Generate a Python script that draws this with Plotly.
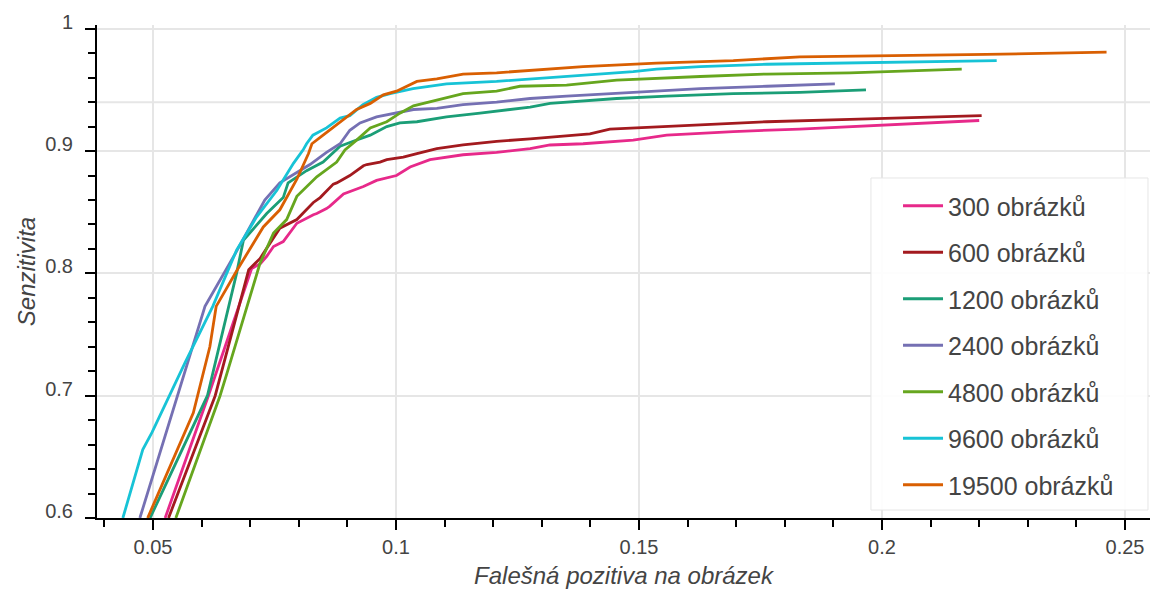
import plotly.graph_objects as go

names = ["300 obrázků", "600 obrázků", "1200 obrázků", "2400 obrázků",
         "4800 obrázků", "9600 obrázků", "19500 obrázků"]
colors = ["#e7298a", "#a31a1f", "#1b9e77", "#7570b3", "#66a61e", "#17c3d6", "#d95f02"]

x300 = [0.0525, 0.0614, 0.0703, 0.0721, 0.0734, 0.0748, 0.0768, 0.0789, 0.0796, 0.0830, 0.0837,
        0.0857, 0.0864, 0.0892, 0.0933, 0.0960, 0.1001, 0.1029, 0.1070, 0.1138, 0.1207, 0.1276,
        0.1317, 0.1385, 0.1488, 0.1557, 0.1694, 0.1831, 0.1934, 0.2200]
y300 = [0.600, 0.700, 0.804, 0.808, 0.814, 0.822, 0.826, 0.838, 0.841, 0.848, 0.849,
        0.853, 0.855, 0.865, 0.871, 0.876, 0.880, 0.887, 0.893, 0.897, 0.899, 0.902,
        0.905, 0.906, 0.909, 0.913, 0.916, 0.918, 0.920, 0.925]

x600 = [0.0532, 0.0628, 0.0697, 0.0720, 0.0761, 0.0796, 0.0830, 0.0844, 0.0871, 0.0878, 0.0905,
        0.0912, 0.0933, 0.0940, 0.0967, 0.0981, 0.1015, 0.1043, 0.1084, 0.1138, 0.1207, 0.1276,
        0.1337, 0.1399, 0.1440, 0.1543, 0.1591, 0.1763, 0.1934, 0.2205]
y600 = [0.600, 0.700, 0.803, 0.812, 0.837, 0.844, 0.858, 0.862, 0.873, 0.874, 0.880,
        0.882, 0.888, 0.889, 0.891, 0.893, 0.895, 0.898, 0.902, 0.905, 0.908, 0.910,
        0.912, 0.914, 0.918, 0.920, 0.921, 0.924, 0.926, 0.929]

x1200 = [0.0494, 0.0612, 0.0672, 0.0686, 0.0734, 0.0768, 0.0778, 0.0816, 0.0850, 0.0871,
         0.0885, 0.0912, 0.0947, 0.0981, 0.1008, 0.1043, 0.1104, 0.1173, 0.1276, 0.1317,
         0.1454, 0.1557, 0.1694, 0.1831, 0.1967]
y1200 = [0.600, 0.700, 0.800, 0.827, 0.849, 0.862, 0.874, 0.884, 0.891, 0.899,
         0.904, 0.908, 0.913, 0.920, 0.923, 0.924, 0.928, 0.931, 0.936, 0.939,
         0.943, 0.945, 0.947, 0.948, 0.950]

x2400 = [0.0473, 0.0607, 0.0669, 0.0730, 0.0761, 0.0823, 0.0857, 0.0885, 0.0905, 0.0926,
         0.0960, 0.1001, 0.1036, 0.1084, 0.1138, 0.1207, 0.1276, 0.1351, 0.1488, 0.1626,
         0.1763, 0.1903]
y2400 = [0.600, 0.773, 0.816, 0.860, 0.874, 0.889, 0.899, 0.906, 0.917, 0.923,
         0.928, 0.931, 0.934, 0.935, 0.938, 0.940, 0.943, 0.945, 0.948, 0.951,
         0.953, 0.955]

x4800 = [0.0547, 0.0638, 0.0652, 0.0720, 0.0748, 0.0775, 0.0796, 0.0830, 0.0837, 0.0878,
         0.0895, 0.0919, 0.0947, 0.0981, 0.1008, 0.1036, 0.1084, 0.1138, 0.1207, 0.1255,
         0.1351, 0.1454, 0.1626, 0.1763, 0.1934, 0.2164]
y4800 = [0.600, 0.700, 0.718, 0.808, 0.833, 0.844, 0.863, 0.876, 0.879, 0.891,
         0.901, 0.909, 0.919, 0.924, 0.931, 0.937, 0.942, 0.947, 0.949, 0.953,
         0.954, 0.958, 0.961, 0.963, 0.964, 0.967]

x9600 = [0.0438, 0.0479, 0.0498, 0.0549, 0.0566, 0.0623, 0.0672, 0.0713, 0.0755, 0.0789,
         0.0809, 0.0816, 0.0829, 0.0857, 0.0885, 0.0905, 0.0932, 0.0960, 0.0988, 0.1035,
         0.1104, 0.1207, 0.1282, 0.1385, 0.1488, 0.1536, 0.1626, 0.1763, 0.1934, 0.2236]
y9600 = [0.600, 0.656, 0.670, 0.713, 0.727, 0.773, 0.819, 0.846, 0.868, 0.890,
         0.901, 0.906, 0.913, 0.919, 0.927, 0.929, 0.938, 0.944, 0.947, 0.951,
         0.955, 0.957, 0.959, 0.962, 0.965, 0.967, 0.969, 0.971, 0.972, 0.974]

x19500 = [0.0489, 0.0583, 0.0617, 0.0630, 0.0672, 0.0727, 0.0761, 0.0796, 0.0820, 0.0827,
          0.0850, 0.0885, 0.0919, 0.0947, 0.0974, 0.1001, 0.1029, 0.1043, 0.1084, 0.1138,
          0.1207, 0.1276, 0.1317, 0.1385, 0.1536, 0.1694, 0.1831, 0.2215, 0.2462]
y19500 = [0.600, 0.686, 0.740, 0.773, 0.802, 0.838, 0.852, 0.877, 0.898, 0.906,
          0.913, 0.924, 0.934, 0.939, 0.946, 0.949, 0.954, 0.957, 0.959, 0.963,
          0.964, 0.966, 0.967, 0.969, 0.972, 0.974, 0.977, 0.979, 0.981]

xs = [x300, x600, x1200, x2400, x4800, x9600, x19500]
ys = [y300, y600, y1200, y2400, y4800, y9600, y19500]

FONT = "Liberation Sans, Arial, sans-serif"
fig = go.Figure()
for i, (n, c, xv, yv) in enumerate(zip(names, colors, xs, ys)):
    fig.add_trace(go.Scatter(x=xv, y=yv, mode="lines", name=n, legendgroup=f"g{i}",
                             line=dict(color=c, width=2.8)))

axis_common = dict(showline=True, linecolor="black", linewidth=2, ticks="outside",
                   tickcolor="black", tickwidth=2, ticklen=10, showgrid=True,
                   gridcolor="#e6e6e6", gridwidth=2, zeroline=False, automargin=False,
                   tickfont=dict(family=FONT, size=20, color="#444"),
                   minor=dict(ticks="outside", ticklen=7, tickwidth=2, tickcolor="black",
                              showgrid=False))

fig.update_layout(
    width=1151, height=589,
    margin=dict(l=97, r=1, t=25, b=71, autoexpand=False),
    paper_bgcolor="white", plot_bgcolor="white",
    font=dict(family=FONT, color="#444"),
    xaxis=dict(range=[0.03848, 0.25514], dtick=0.05, tick0=0.05,
               title=dict(text="Falešná pozitiva na obrázek", standoff=12,
                          font=dict(family=FONT, size=24, color="#444", style="italic")),
               **axis_common),
    yaxis=dict(range=[0.6, 1.0031], dtick=0.1, tick0=0.6, ticklabelstandoff=8,
               ticklabelshift=-7,
               title=dict(text="Senzitivita", standoff=3,
                          font=dict(family=FONT, size=24, color="#444", style="italic")),
               **axis_common),
    legend=dict(x=0.7607, xanchor="left", y=0.6795, yanchor="top",
                bgcolor="rgba(0,0,0,0)", borderwidth=0,
                font=dict(family=FONT, size=25, color="#444"), tracegroupgap=11,
                itemwidth=40),
    showlegend=True,
)
fig.update_xaxes(minor_dtick=0.01)
fig.update_yaxes(minor_dtick=0.02)
fig.add_shape(type="line", xref="paper", x0=0, x1=1, yref="y", y0=0.94, y1=0.94,
              line=dict(color="#e6e6e6", width=2), layer="below")
# legend frame
fig.add_shape(type="rect", xref="paper", yref="paper", x0=0.735, x1=0.9981,
              y0=0.0162, y1=0.6897, line=dict(color="#e6e6e6", width=1),
              fillcolor="rgba(255,255,255,0.92)", layer="above")

fig.write_html("out.html", config={"displayModeBar": False},
               post_script="document.body.style.margin='0px';document.body.style.overflow='hidden';")
